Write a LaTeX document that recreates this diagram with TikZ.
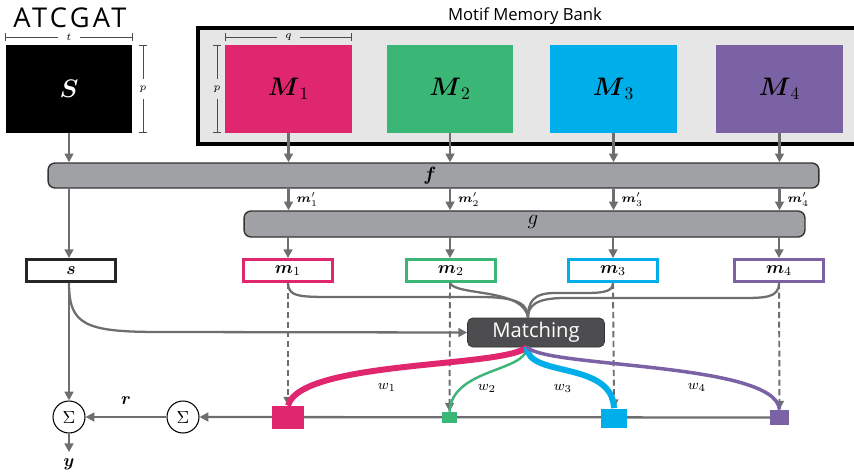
\documentclass[tikz,border=0pt]{standalone}
\usepackage{amsmath, amssymb}
\usepackage{fontspec}
\setsansfont{Open Sans}
\usetikzlibrary{arrows.meta, backgrounds}

\definecolor{motifA}{HTML}{E0266E}
\definecolor{motifB}{HTML}{3AB777}
\definecolor{motifC}{HTML}{00AEEA}
\definecolor{motifD}{HTML}{7B62A5}
\definecolor{bargray}{HTML}{A0A1A4}
\definecolor{linegray}{HTML}{6D6E70}
\definecolor{bankgray}{HTML}{E6E6E6}
\definecolor{matchgray}{HTML}{4D4D4F}

\begin{document}
\begin{tikzpicture}[x=0.02cm, y=-0.02cm]
\tikzset{ >={Triangle[length=5pt, width=5pt]},
  flow/.style={draw=linegray, line width=1.3pt},
  motif/.style={minimum width=2.54cm, minimum height=1.76cm, inner sep=0pt},
  bar/.style={draw=black!80, fill=bargray, rounded corners=4pt, minimum height=0.5cm, inner sep=0pt, line width=0.8pt},
  vec/.style={draw, fill=white, line width=1.6pt, minimum width=1.78cm, minimum height=0.44cm, inner sep=0pt, font=\fontsize{10}{10}\selectfont},
  sumnode/.style={circle, draw, fill=white, minimum size=0.64cm, inner sep=0pt, line width=0.6pt},
  dim/.style={|-|, draw=black!70, line width=0.4pt},
  dimlabel/.style={inner xsep=5pt, inner ysep=1pt, font=\fontsize{6}{6}\selectfont},
  mlabel/.style={font=\fontsize{7.5}{7.5}\selectfont, inner sep=0pt},
  wlabel/.style={font=\fontsize{8}{8}\selectfont, inner sep=0pt},
}

\useasboundingbox (0,0) rectangle (854,473);
%\draw [lightgray, dashed](0,0) grid [step=50] (854,473);

\node [font=\sffamily\fontsize{15.5}{15.5}\selectfont\addfontfeature{LetterSpace=12}] (seq) at (70,18) {ATCGAT};
\node [font=\sffamily\fontsize{9.5}{9.5}\selectfont] (title) at (525,16) {Motif Memory Bank};

\fill [bankgray] (198,28) rectangle (870,144);
\draw [line width=2.4pt] (870,28) -- (198,28) -- (198,144) -- (870,144);

\node [motif, fill=black, text=white, font=\fontsize{14}{14}\selectfont] (S) at (69,89) {$\boldsymbol{S}$};
\node [motif, fill=motifA, font=\fontsize{14}{14}\selectfont] (M1) at (288.5,89) {$\boldsymbol{M}_1$};
\node [motif, fill=motifB, font=\fontsize{14}{14}\selectfont] (M2) at (450,89) {$\boldsymbol{M}_2$};
\node [motif, fill=motifC, font=\fontsize{14}{14}\selectfont] (M3) at (613.5,89) {$\boldsymbol{M}_3$};
\node [motif, fill=motifD, font=\fontsize{14}{14}\selectfont] (M4) at (779.5,89) {$\boldsymbol{M}_4$};

\draw [dim] (5,37) -- (133,37) node [midway, fill=white, dimlabel] {$t$};
\draw [dim] (143,45) -- (143,133) node [midway, fill=white, dimlabel, inner xsep=1pt, inner ysep=4pt] {$p$};
\draw [dim] (225,37) -- (352,37) node [midway, fill=bankgray, dimlabel] {$q$};
\draw [dim] (217,45) -- (217,133) node [midway, fill=bankgray, dimlabel, inner xsep=1pt, inner ysep=4pt] {$p$};

\node [bar, minimum width=15.42cm] (f) at (433.5,175.5) {};
\node [font=\fontsize{11}{11}\selectfont] at (430,176) {$\boldsymbol{f}$};
\node [bar, minimum width=11.22cm, minimum height=0.52cm] (g) at (524.5,224) {};
\node [font=\fontsize{13}{13}\selectfont] at (533,222) {$g$};

\node [vec, draw=black!85] (s) at (71,270.5) {$\boldsymbol{s}$};
\node [vec, draw=motifA] (m1) at (288,270.5) {$\boldsymbol{m}_1$};
\node [vec, draw=motifB] (m2) at (451,270.5) {$\boldsymbol{m}_2$};
\node [vec, draw=motifC] (m3) at (613,270.5) {$\boldsymbol{m}_3$};
\node [vec, draw=motifD] (m4) at (779,270.5) {$\boldsymbol{m}_4$};

\node [draw=black!80, fill=matchgray, rounded corners=3pt, minimum width=2.74cm, minimum height=0.58cm, inner sep=0pt, text=white, font=\sffamily\fontsize{11.5}{11.5}\selectfont] (match) at (536,332.5) {Matching};
\coordinate (mtop) at (528,318);
\coordinate (mbot) at (527,347);

\node [sumnode] (sum1) at (69,417) {$\Sigma$};
\node [sumnode] (sum2) at (183,417) {$\Sigma$};
\node [font=\fontsize{10}{10}\selectfont] (yout) at (69,464) {$\boldsymbol{y}$};

\node [fill=motifA, minimum width=0.64cm, minimum height=0.46cm, inner sep=0pt] (sc1) at (288,417.5) {};
\node [fill=motifB, minimum width=0.30cm, minimum height=0.22cm, inner sep=0pt] (sc2) at (449.5,417.5) {};
\node [fill=motifC, minimum width=0.52cm, minimum height=0.38cm, inner sep=0pt] (sc3) at (614,418) {};
\node [fill=motifD, minimum width=0.38cm, minimum height=0.30cm, inner sep=0pt] (sc4) at (779.5,417.5) {};

\begin{scope}[on background layer]
\draw [flow, ->] (sc4.center) -- (sum2);
\end{scope}

\draw [flow, ->] (S)  -- (S  |- f.north);
\draw [flow, ->] (M1) -- (M1 |- f.north);
\draw [flow, ->] (M2) -- (M2 |- f.north);
\draw [flow, ->] (M3) -- (M3 |- f.north);
\draw [flow, ->] (M4) -- (M4 |- f.north);

\draw [flow, ->] (S  |- f.south) -- (S |- s.north);
\draw [flow, ->] (M1 |- f.south) -- (M1 |- g.north) node [midway, right=4pt, mlabel] {$\boldsymbol{m}'_1$};
\draw [flow, ->] (M2 |- f.south) -- (M2 |- g.north) node [midway, right=4pt, mlabel] {$\boldsymbol{m}'_2$};
\draw [flow, ->] (M3 |- f.south) -- (M3 |- g.north) node [midway, right=4pt, mlabel] {$\boldsymbol{m}'_3$};
\draw [flow, ->] (M4 |- f.south) -- (M4 |- g.north) node [midway, right=4pt, mlabel] {$\boldsymbol{m}'_4$};

\draw [flow, ->] (m1 |- g.south) -- (m1);
\draw [flow, ->] (M2 |- g.south) -- (M2 |- m2.north);
\draw [flow, ->] (m3 |- g.south) -- (m3);
\draw [flow, ->] (m4 |- g.south) -- (m4);

\draw [flow] (m1.south) .. controls (288,297) and (300,297) .. (335,297) -- (480,297) .. controls (520,297) and (528,305) .. (mtop);
\draw [flow] (M2 |- m2.south) .. controls (455,296) and (525,288) .. (mtop);
\draw [flow] (m3.south) .. controls (613,293) and (600,293) .. (580,293) -- (555,293) .. controls (533,293) and (528,302) .. (mtop);
\draw [flow] (m4.south) .. controls (779,298) and (765,298) .. (740,298) -- (565,298) .. controls (535,298) and (528,306) .. (mtop);

\draw [flow, ->] (S |- s.south) .. controls (69,325) and (85,332) .. (160,332) -- (match.west);
\draw [flow, ->] (S |- s.south) -- (sum1);

\draw [flow, line width=1.1pt, dash pattern=on 3.5pt off 2pt, ->] (m1.south) -- (sc1.north);
\draw [flow, line width=1.1pt, dash pattern=on 3.5pt off 2pt, ->] (M2 |- m2.south) -- (sc2.north);
\draw [flow, line width=1.1pt, dash pattern=on 3.5pt off 2pt, ->] (m3.south) -- (sc3.north);
\draw [flow, line width=1.1pt, dash pattern=on 3.5pt off 2pt, ->] (m4.south) -- (sc4.north);

\draw [motifA, line width=3.4pt] (mbot) .. controls (505,368) and (300,360) .. (sc1.north);
\draw [motifB, line width=1.4pt] (mbot) .. controls (527,372) and (452,368) .. (sc2.north);
\draw [motifC, line width=3.4pt] (mbot) .. controls (527,378) and (612,360) .. (sc3.north);
\draw [motifD, line width=2.0pt] (mbot) .. controls (545,368) and (776,362) .. (sc4.north);

\node [wlabel] at (387,387) {$w_1$};
\node [wlabel] at (487,388) {$w_2$};
\node [wlabel] at (563,388) {$w_3$};
\node [wlabel] at (697,387) {$w_4$};

\draw [flow, ->] (sum2) -- (sum1) node [midway, above=3pt, font=\fontsize{10}{10}\selectfont] {$\boldsymbol{r}$};
\draw [flow, ->] (sum1) -- (yout);
\end{tikzpicture}
\end{document}
